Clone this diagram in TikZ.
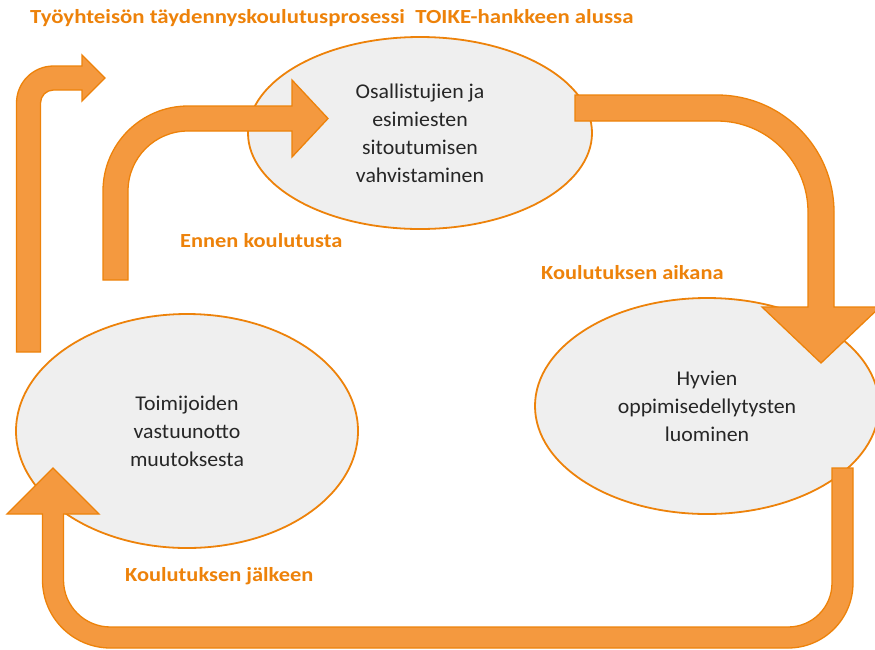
\documentclass[tikz,border=0pt]{standalone}
\usepackage{fontspec}
\setmainfont{Carlito}
\newfontfamily\bodyfont[FakeStretch=1.04]{Carlito}
\newfontfamily\headfont[FakeStretch=1.12]{Carlito}
\newfontfamily\titlefont[FakeStretch=1.14]{Carlito}
\usetikzlibrary{shapes.geometric}
\definecolor{orl}{RGB}{237,130,10}
\definecolor{orf}{RGB}{244,153,63}
\definecolor{ell}{RGB}{239,239,239}
\definecolor{txt}{RGB}{38,38,38}
\tikzset{
  bubble/.style={ellipse, draw=orl, line width=1.8pt, fill=ell, inner sep=0pt,
    text=txt, align=center, font=\bodyfont\fontsize{21}{28}\selectfont},
  blockarrow/.style={draw=orl, line width=1.3pt, fill=orf, line join=miter},
  phase/.style={text=orl, font=\headfont\bfseries\fontsize{20}{24}\selectfont, inner sep=0pt}
}
\begin{document}
\begin{tikzpicture}[x=1pt,y=-1pt]
\useasboundingbox (0,0) rectangle (875,649);
% ellipses
\node[bubble, minimum width=344pt, minimum height=192pt] (top) at (420,133)
  {Osallistujien ja\\esimiesten\\sitoutumisen\\vahvistaminen};
\node[bubble, minimum width=344pt, minimum height=216pt] (right) at (707,406)
  {Hyvien\\oppimisedellytysten\\luominen};
\node[bubble, minimum width=342pt, minimum height=234pt] (left) at (187,431)
  {Toimijoiden\\vastuunotto\\muutoksesta};
% arrows
\draw[blockarrow] (16.5,352) -- (16.5,103) arc[start angle=180, end angle=90, radius=37pt]
  -- (82,66) -- (82,55) -- (105,78) -- (82,101) -- (82,90) -- (53.5,90)
  arc[start angle=90, end angle=180, radius=13pt] -- (40.5,352) -- cycle;
\draw[blockarrow] (103,280) -- (103,191) arc[start angle=180, end angle=90, radius=85pt]
  -- (292,106) -- (292,80) -- (328,118.5) -- (292,157) -- (292,131) -- (188,131)
  arc[start angle=90, end angle=180, radius=60pt] -- (128,280) -- cycle;
\draw[blockarrow] (575,95) -- (717,95) arc[start angle=90, end angle=0, radius=117pt]
  -- (834,307) -- (880,307) -- (821,363) -- (762,307) -- (808,307) -- (808,212)
  arc[start angle=0, end angle=90, radius=91pt] -- (575,121) -- cycle;
\draw[blockarrow] (832,468) -- (853,468) -- (853,583) arc[start angle=0, end angle=-90, radius=65pt]
  -- (110.5,648) arc[start angle=270, end angle=180, radius=68pt]
  -- (42.5,514) -- (7,514) -- (53,468) -- (99,514) -- (63.5,514) -- (63.5,580)
  arc[start angle=180, end angle=270, radius=47pt] -- (788,627)
  arc[start angle=-90, end angle=0, radius=44pt] -- cycle;
% labels
\node[phase, font=\titlefont\bfseries\fontsize{20}{24}\selectfont, anchor=west] (title) at (30,18) {Työyhteisön täydennyskoulutusprosessi\ \ TOIKE-hankkeen alussa};
\node[phase, anchor=west] (ennen) at (180,241) {Ennen koulutusta};
\node[phase, anchor=west] (aikana) at (541,273) {Koulutuksen aikana};
\node[phase, anchor=west] (jalkeen) at (125,576) {Koulutuksen jälkeen};
\end{tikzpicture}
\end{document}
